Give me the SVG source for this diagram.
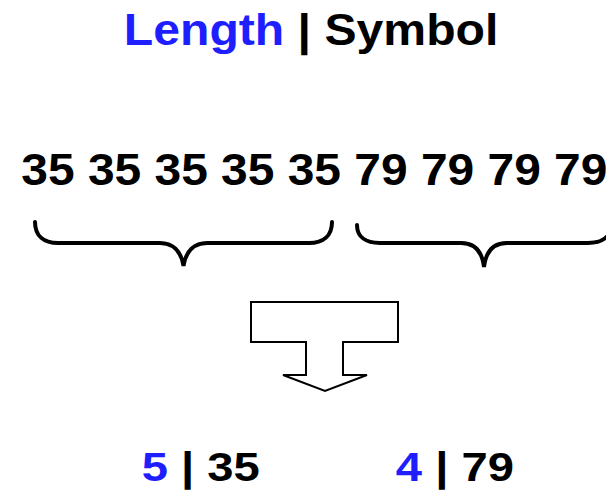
<svg xmlns="http://www.w3.org/2000/svg" width="606" height="497" viewBox="0 0 606 497">
  <style>
    .t { font-family: "Liberation Sans", Arial, Helvetica, sans-serif; font-weight: bold; fill: #000; }
    .len { fill: #1e1eff; }
    .brace { fill: none; stroke: #000; stroke-width: 4; stroke-linecap: round; }
    .block { fill: #fff; stroke: #000; stroke-width: 2; stroke-linejoin: miter; }
  </style>
  <rect width="606" height="497" fill="#fff"/>

  <!-- heading -->
  <g id="title">
    <text class="t" font-size="45" transform="translate(123.8,44.5) scale(1.07,1)"><tspan class="len">Length</tspan> | Symbol</text>
  </g>

  <!-- raw symbol run -->
  <g id="sequence">
    <text class="t" font-size="45" transform="translate(21.3,185) scale(1.065,1)">35 35 35 35 35 79 79 79 79</text>
  </g>

  <!-- grouping braces and encode arrow -->
  <g id="connectors">
    <path class="brace" d="M35,222 C35,236 44,243 58,243 L160,243 C172,243 181,250 183.5,266 C186,250 195,243 207,243 L309,243 C323,243 332,236 332,222"/>
    <path class="brace" d="M357,225 C357,237 366,243 380,243 L461,243 C473,243 482,250 484,267 C486,250 495,243 507,243 L588,243 C602,243 611,237 611,225"/>
    <polygon id="arrow" class="block" points="251,302 398,302 398,342 343,342 343,375 367,375 325,391 283,375 306,375 306,342 251,342"/>
  </g>

  <!-- encoded pairs -->
  <g id="pair-35">
    <text class="t" font-size="40" transform="translate(141.7,481) scale(1.18,1)"><tspan class="len">5</tspan> | 35</text>
  </g>
  <g id="pair-79">
    <text class="t" font-size="40" transform="translate(395.8,481) scale(1.18,1)"><tspan class="len">4</tspan> | 79</text>
  </g>
</svg>
